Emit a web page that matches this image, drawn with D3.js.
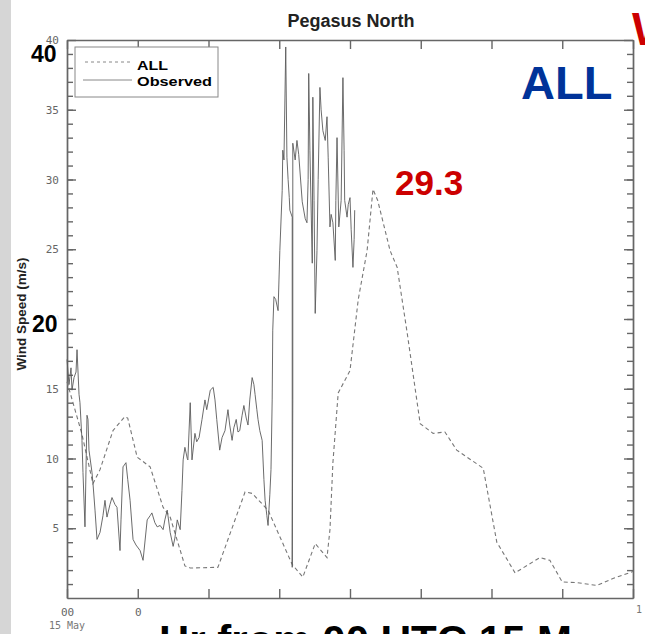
<!DOCTYPE html>
<html>
<head>
<meta charset="utf-8">
<script src="https://cdn.jsdelivr.net/npm/d3@7"></script>
<style>
  body { margin: 0; background: #fff; }
  svg { display: block; }
  .tick text { font-family: "DejaVu Sans Mono", monospace; font-size: 11px; fill: #666; }
  .axis path, .axis line { stroke: #666; stroke-width: 1.4; }
</style>
</head>
<body>
<div id="chart"></div>
<script>
// Data (hours from 00 UTC 15 May, wind speed m/s)
var allHours = [0, 2.5, 4.4, 5.6, 7.8, 9.8, 10.3, 11.9, 14.1, 16.3, 17.5, 20.0, 20.9, 25.6, 30.2, 31.4, 34.1,
    38.2, 40.0, 42.1, 44.1, 44.6, 45.1, 46.0, 48.0, 49.4, 50.9, 51.9, 52.7, 54.8, 56.0, 57.7, 59.9, 62.1,
    64.1, 66.1, 70.6, 72.9, 76.0, 80.2, 81.9, 84.0, 86.5, 89.9, 92.6, 96];
var allSpeed = [15.5, 11.8, 8.2, 9.2, 12.0, 13.0, 12.9, 10.1, 9.4, 6.5, 5.8, 2.3, 2.15, 2.2, 7.6, 7.5, 6.3,
    2.4, 1.5, 3.9, 2.9, 4.9, 9.7, 14.7, 16.3, 21.4, 24.9, 29.3, 28.5, 24.9, 23.7, 19.0, 12.5, 11.8,
    11.9, 10.6, 9.3, 4.0, 1.8, 2.9, 2.7, 1.15, 1.1, 0.9, 1.4, 1.9];

var obsHours = [0, 0.34, 0.68, 0.85, 1.19, 1.53, 1.7, 2.04, 2.2, 2.54, 2.71, 3.05, 3.22, 3.39, 3.56, 3.73,
    4.24, 4.41, 4.75, 5.09, 5.6, 6.1, 6.44, 6.78, 7.29, 7.63, 8.14, 8.48, 8.99, 9.16, 9.5, 10.0, 10.3,
    10.7, 11.2, 11.7, 12.4, 12.9, 13.6, 14.1, 14.4, 14.9, 15.3, 15.8, 16.3, 16.6, 17.0, 17.5, 18.0,
    18.3, 18.7, 19.2, 19.5, 19.7, 20.0, 20.4, 20.5, 20.9, 21.2, 21.7, 22.0, 22.4, 22.9, 23.4, 23.7,
    24.3, 24.8, 25.1, 25.4, 25.9, 26.3, 26.8, 27.3, 27.6, 28.0, 28.3, 28.7, 29.0, 29.3, 29.7, 30.0,
    30.4, 30.7, 31.0, 31.4, 31.7, 31.9, 32.2, 32.4, 32.7, 33.1, 33.4, 33.6, 33.9, 34.1, 34.4, 34.6,
    34.8, 34.9, 35.1, 35.4, 35.8, 36.1, 36.5, 36.6, 36.8, 37.1, 37.3, 37.5, 37.7, 37.8, 38.2, 38.2,
    38.3, 38.3, 38.7, 39.0, 39.3, 39.9, 40.4, 40.7, 40.9, 41.0, 41.2, 41.6, 41.7, 41.9, 42.1, 42.4,
    42.6, 42.9, 43.1, 43.4, 43.8, 44.1, 44.3, 44.6, 44.8, 45.1, 45.5, 45.6, 45.8, 46.1, 46.5, 46.8,
    47.0, 47.1, 47.5, 47.7, 48.0, 48.2, 48.5, 48.7, 48.8];
var obsSpeed = [17.1, 15.3, 16.5, 14.9, 15.8, 16.2, 17.8, 14.6, 14.0, 11.3, 9.0, 5.1, 9.2, 13.1, 12.8, 10.6,
    9.0, 8.2, 6.3, 4.2, 4.7, 5.9, 7.0, 5.8, 6.7, 7.2, 6.7, 6.5, 3.4, 5.6, 9.4, 9.7, 8.5,
    7.0, 4.2, 3.8, 3.4, 2.7, 5.6, 5.9, 6.1, 5.4, 5.1, 5.2, 4.9, 5.6, 6.3, 4.7, 3.7,
    4.3, 5.6, 4.9, 7.7, 9.9, 10.8, 10.0, 9.9, 14.0, 9.9, 11.8, 11.2, 11.5, 12.8, 14.2, 13.5,
    14.9, 15.1, 14.2, 12.8, 10.6, 11.5, 12.0, 13.5, 12.4, 11.3, 12.2, 12.8, 11.9, 12.0, 13.1, 13.8,
    12.9, 12.4, 14.2, 15.8, 15.3, 14.6, 13.5, 12.8, 12.0, 11.3, 8.5, 7.0, 5.9, 5.2, 7.4, 9.2,
    14.2, 19.2, 21.6, 21.4, 20.6, 24.9, 29.2, 32.1, 31.4, 39.5, 31.6, 30.0, 28.7, 27.8, 27.3, 2.2,
    14.2, 32.6, 31.4, 32.8, 31.8, 28.4, 27.2, 26.9, 30.0, 37.6, 32.1, 24.0, 35.9, 28.5, 20.4, 24.9,
    30.0, 36.6, 35.0, 33.5, 32.8, 34.5, 31.6, 26.6, 27.5, 26.9, 24.2, 28.5, 33.0, 26.6, 28.5, 37.3,
    32.1, 28.5, 27.3, 28.2, 28.7, 26.4, 23.7, 25.7, 27.8];

var yTicks = [5, 10, 15, 20, 25, 30, 35, 40];
var xTicks = [0, 12, 24, 36, 48, 60, 72, 84, 96];
var xTickLabels = ["00", "0", "", "", "", "", "", "", ""];

// Setup
var width = 645, height = 634;
var margin = {top: 40, right: 12, bottom: 36, left: 67};

var svg = d3.select("#chart").append("svg")
    .attr("width", width)
    .attr("height", height);

// textured strip on the left edge
svg.append("rect").attr("x", 0).attr("y", 0).attr("width", 11).attr("height", height)
    .attr("fill", "#d6d6d6");

var x = d3.scaleLinear().domain([0, 96]).range([margin.left, width - margin.right]);
var y = d3.scaleLinear().domain([0, 40]).range([height - margin.bottom, margin.top]);

// Axes (ticks point inward)
var minor = d3.range(1, 40);

svg.append("g").attr("class", "axis")
    .attr("transform", "translate(" + x(0) + ",0)")
    .call(d3.axisLeft(y).tickValues(minor).tickSize(-6).tickSizeOuter(0).tickFormat(""));
svg.append("g").attr("class", "axis")
    .attr("transform", "translate(" + x(0) + ",0)")
    .call(d3.axisLeft(y).tickValues(yTicks).tickSize(-9).tickSizeOuter(0).tickPadding(8));

svg.append("g").attr("class", "axis")
    .attr("transform", "translate(" + x(96) + ",0)")
    .call(d3.axisRight(y).tickValues(minor).tickSize(-6).tickSizeOuter(0).tickFormat(""));
svg.append("g").attr("class", "axis")
    .attr("transform", "translate(" + x(96) + ",0)")
    .call(d3.axisRight(y).tickValues(yTicks).tickSize(-9).tickSizeOuter(0).tickFormat(""));

svg.append("g").attr("class", "axis")
    .attr("transform", "translate(0," + y(0) + ")")
    .call(d3.axisBottom(x).tickValues(xTicks).tickSize(-9).tickSizeOuter(0).tickPadding(10)
        .tickFormat(function(d, i) { return xTickLabels[i]; }));
svg.append("g").attr("class", "axis")
    .attr("transform", "translate(0," + y(40) + ")")
    .call(d3.axisTop(x).tickValues(xTicks).tickSize(-9).tickSizeOuter(0).tickFormat(""));

svg.append("text").attr("x", x(0)).attr("y", 629)
    .attr("text-anchor", "middle")
    .style("font-family", "DejaVu Sans Mono, monospace").style("font-size", "10px").style("fill", "#777")
    .text("15 May");
svg.append("text").attr("x", 636).attr("y", 613)
    .style("font-family", "DejaVu Sans Mono, monospace").style("font-size", "10px").style("fill", "#777")
    .text("1");

// Lines
var allData = allHours.map(function(h, i) { return [h, allSpeed[i]]; });
var obsData = obsHours.map(function(h, i) { return [h, obsSpeed[i]]; });

var line = d3.line()
    .x(function(d) { return x(d[0]); })
    .y(function(d) { return y(d[1]); });

svg.append("path").datum(allData)
    .attr("d", line)
    .attr("fill", "none")
    .attr("stroke", "#777")
    .attr("stroke-width", 1.1)
    .attr("stroke-dasharray", "4,3");

svg.append("path").datum(obsData)
    .attr("d", line)
    .attr("fill", "none")
    .attr("stroke", "#5a5a5a")
    .attr("stroke-width", 0.9);

// Legend
var legend = svg.append("g");
legend.append("rect").attr("x", 75).attr("y", 47).attr("width", 143).attr("height", 50)
    .attr("fill", "#fff").attr("stroke", "#888").attr("stroke-width", 1);
legend.append("line").attr("x1", 85).attr("x2", 132).attr("y1", 62).attr("y2", 62)
    .attr("stroke", "#888").attr("stroke-dasharray", "3,3");
legend.append("line").attr("x1", 83).attr("x2", 132).attr("y1", 80).attr("y2", 80)
    .attr("stroke", "#888");
legend.append("text").attr("x", 137).attr("y", 70).text("ALL")
    .attr("textLength", 31).attr("lengthAdjust", "spacingAndGlyphs")
    .style("font-family", "Liberation Sans, Arial, sans-serif").style("font-weight", "bold").style("font-size", "12px");
legend.append("text").attr("x", 137).attr("y", 86).text("Observed")
    .attr("textLength", 75).attr("lengthAdjust", "spacingAndGlyphs")
    .style("font-family", "Liberation Sans, Arial, sans-serif").style("font-weight", "bold").style("font-size", "12px");

// Titles
svg.append("text").attr("x", 351).attr("y", 27).attr("text-anchor", "middle")
    .style("font-family", "Liberation Sans, Arial, sans-serif").style("font-weight", "bold")
    .style("font-size", "18px").style("fill", "#222")
    .text("Pegasus North");

svg.append("text").attr("transform", "translate(26,314) rotate(-90)").attr("text-anchor", "middle")
    .style("font-family", "Liberation Sans, Arial, sans-serif").style("font-weight", "bold")
    .style("font-size", "13.5px").style("fill", "#222")
    .text("Wind Speed (m/s)");

// Overlay annotations
function bigText(tx, ty, size, color, str, halo) {
    var t = svg.append("text").attr("x", tx).attr("y", ty)
        .style("font-family", "Liberation Sans, Arial, sans-serif").style("font-weight", "bold")
        .style("font-size", size + "px").style("fill", color)
        .text(str);
    if (halo) {
        t.style("stroke", "#fff").style("stroke-width", 5).style("paint-order", "stroke");
    }
}
bigText(31, 62, 23, "#000", "40");
bigText(32, 332, 23, "#000", "20", true);
bigText(521, 99, 47, "#003399", "ALL");
bigText(395, 195, 35, "#cc0000", "29.3");
bigText(632, 45, 46, "#cc0000", "W");
bigText(159, 655, 42, "#000", "Hr from 00 UTC 15 M");
</script>
</body>
</html>
